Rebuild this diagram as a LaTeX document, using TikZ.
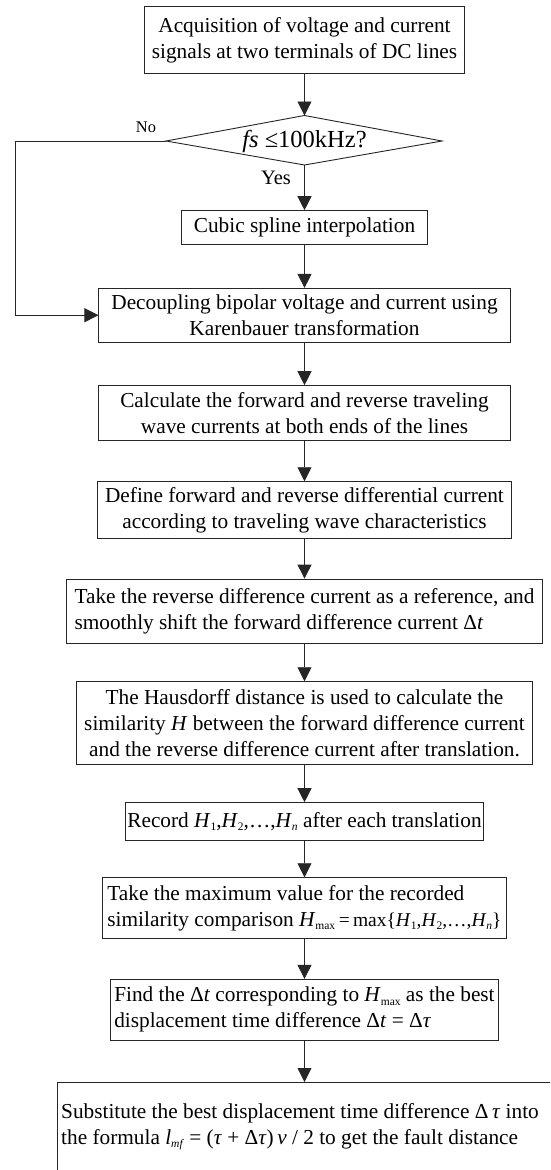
\documentclass[tikz,border=0pt]{standalone}
\usepackage{fontspec}
\setmainfont{Liberation Serif}
\usetikzlibrary{arrows.meta}
\newcommand\mysub[1]{\raisebox{-0.35ex}{\fontsize{11.5}{12}\selectfont #1}}
\begin{document}
\begin{tikzpicture}[x=1pt,y=-1pt,
  every node/.style={font=\fontsize{21.3}{26}\selectfont},
  box/.style={draw=black!85, line width=0.9pt, inner sep=0pt, align=center},
  lbox/.style={draw=black!85, line width=0.9pt, inner sep=0pt, align=left},
  arr/.style={draw=black!85, line width=0.9pt, -{Triangle[width=14pt,length=14pt]}},
  ln/.style={draw=black!85, line width=0.9pt}]
\clip (0,0) rectangle (550,1170);
\useasboundingbox (0,0) rectangle (550,1170);
\fill[white] (0,0) rectangle (550,1170);

\node[box, minimum width=320.7, minimum height=67] (acq) at (304.5,40)
  {Acquisition of voltage and current\\signals at two terminals of DC lines};

% decision diamond
\node[inner sep=0pt, font=\fontsize{24.5}{28}\selectfont] (dec) at (304.5,141) {\textit{fs} ≤100kHz?};
\coordinate (dT) at (304.5,115.5);
\coordinate (dB) at (304.5,165);
\coordinate (dL) at (166,141);
\coordinate (dR) at (442,141);
\draw[ln] (dT) -- (dR) -- (dB) -- (dL) -- cycle;
\node[font=\fontsize{16.4}{18}\selectfont, inner sep=0pt] (nolab) at (146,127) {No};
\node[font=\fontsize{20.5}{24}\selectfont, inner sep=0pt] (yeslab) at (276,178) {Yes};

\node[box, minimum width=245.3, minimum height=33.3] (cubic) at (304.5,227.3)
  {Cubic spline interpolation};
\node[box, minimum width=411.2, minimum height=53.7] (decp) at (304.5,315.2)
  {Decoupling bipolar voltage and current using\\Karenbauer transformation};
\node[box, minimum width=411.2, minimum height=54.3] (calc) at (304.5,412.8)
  {Calculate the forward and reverse traveling\\wave currents at both ends of the lines};
\node[box, minimum width=414.4, minimum height=56.6] (defn) at (304.5,510)
  {Define forward and reverse differential current\\according to traveling wave characteristics};
\node[lbox, minimum width=476.1, minimum height=64.3] (take) at (304.5,611.2)
  {Take the reverse difference current as a reference, and\\smoothly shift the forward difference current Δ\textit{t}};
\node[box, minimum width=456.1, minimum height=83] (haus) at (304.5,723.2)
  {The Hausdorff distance is used to calculate the\\similarity \textit{H} between the forward difference current\\and the reverse difference current after translation.};
\node[box, minimum width=357.2, minimum height=37.3] (rec) at (304.5,821.3)
  {Record \textit{H}\mysub{1},\textit{H}\mysub{2},…,\textit{H}\mysub{\textit{n}} after each translation};
\node[lbox, minimum width=403.5, minimum height=60.6] (hmax) at (304.5,908)
  {Take the maximum value for the recorded\\similarity comparison \textit{H}\mysub{max}\,{\fontsize{19.5}{26}\selectfont=\,max\{\textit{H}\mysub{1},\textit{H}\mysub{2},…,\textit{H}\mysub{\textit{n}}\}}};
\node[lbox, minimum width=388.1, minimum height=61] (find) at (304.5,1009.8)
  {Find the Δ\textit{t} corresponding to \textit{H}\mysub{max} as the best\\displacement time difference Δ\textit{t} = Δ\textit{τ}};

\node[draw=black!85, line width=0.9pt, inner sep=0pt, anchor=north west,
  minimum width=520, minimum height=120] (last) at (57,1082) {};
\node[inner sep=0pt, align=left, anchor=west] (lasttext) at (61,1126.5)
  {Substitute the best displacement time difference Δ\,\textit{τ} into\\the formula \textit{l}\mysub{\textit{mf}} = (\textit{τ} + Δ\textit{τ})\,\textit{v} / 2 to get the fault distance};

% connectors
\draw[arr] (acq.south) -- (dT);
\draw[arr] (dB) -- (cubic.north);
\draw[arr] (cubic.south) -- (decp.north);
\coordinate (nocorner) at (15.7,141);
\draw[arr] (dL) -- (nocorner) |- (decp.west);
\draw[arr] (decp.south) -- (calc.north);
\draw[arr] (calc.south) -- (defn.north);
\draw[arr] (defn.south) -- (take.north);
\draw[arr] (take.south) -- (haus.north);
\draw[arr] (haus.south) -- (rec.north);
\draw[arr] (rec.south) -- (hmax.north);
\draw[arr] (hmax.south) -- (find.north);
\draw[arr] (find.south) -- (last.north -| find.south);
\end{tikzpicture}
\end{document}
